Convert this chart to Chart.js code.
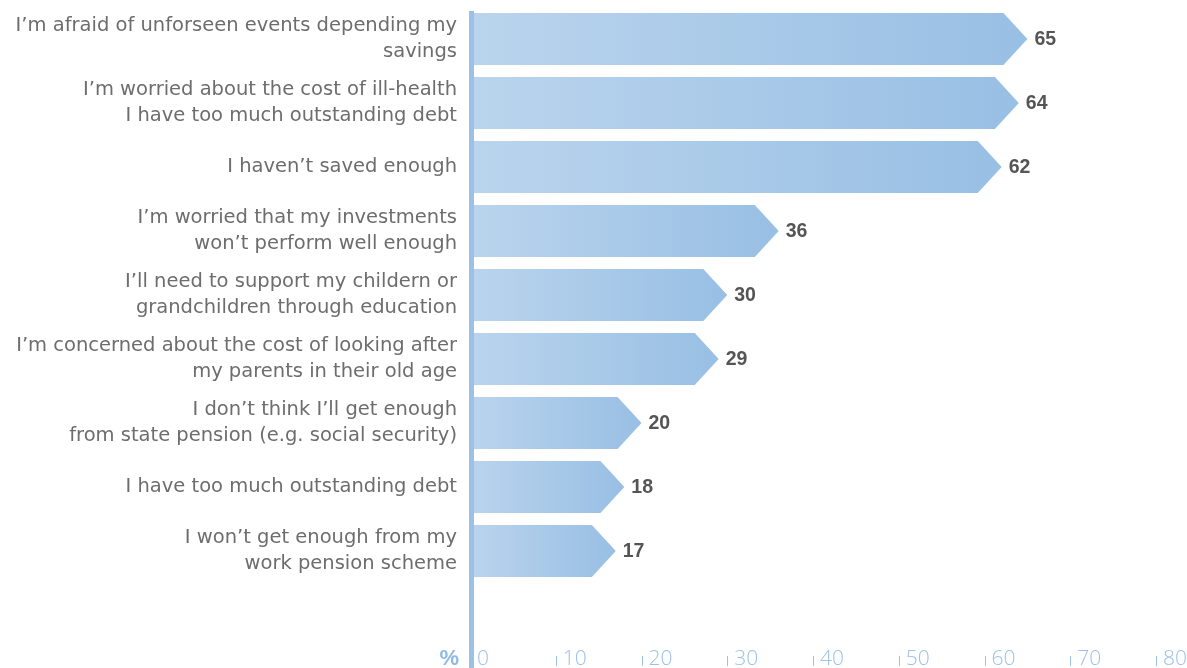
<!DOCTYPE html>
<html>
<head>
<meta charset="utf-8">
<script src="https://cdn.jsdelivr.net/npm/chart.js@4"></script>
<style>
  html, body { margin: 0; padding: 0; background: #ffffff; }
  #wrap { width: 1187px; height: 668px; }
</style>
</head>
<body>
<div id="wrap"><canvas id="chart" width="1187" height="668"></canvas></div>
<script>
// Survey answers (multi-line labels are arrays of lines)
const categories = [
  ["I’m afraid of unforseen events depending my", "savings"],
  ["I’m worried about the cost of ill-health", "I have too much outstanding debt"],
  "I haven’t saved enough",
  ["I’m worried that my investments", "won’t perform well enough"],
  ["I’ll need to support my childern or", "grandchildren through education"],
  ["I’m concerned about the cost of looking after", "my parents in their old age"],
  ["I don’t think I’ll get enough", "from state pension (e.g. social security)"],
  "I have too much outstanding debt",
  ["I won’t get enough from my", "work pension scheme"]
];
// Share of respondents, %
const shares = [65, 64, 62, 36, 30, 29, 20, 18, 17];
// Percentage axis
const axisMin = 0;
const axisMax = 80;
const axisStep = 10;
const axisUnit = "%";

const LABEL_FONT = "'DejaVu Sans', Verdana, sans-serif";
const TICK_FONT = "'Open Sans', 'Liberation Sans', Arial, sans-serif";
const BOLD_FONT = "'Liberation Sans', Arial, sans-serif";
const BAR_LIGHT = "#bad4ed";
const BAR_DARK = "#98bfe4";
const AXIS_BLUE = "#9cc1e6";
const TICK_BLUE = "#9cc2e8";

// Draws each bar as an arrow pointing at its value, the value next to it,
// the thick value axis line, the little tick marks and the unit sign.
const arrowBars = {
  id: "arrowBars",
  afterDatasetsDraw(chart) {
    const ctx = chart.ctx;
    const meta = chart.getDatasetMeta(0);
    const data = chart.data.datasets[0].data;
    ctx.save();
    meta.data.forEach((el, i) => {
      const { x, y, base, height } = el.getProps(["x", "y", "base", "height"], true);
      const half = height / 2;
      const tipLen = half * 0.92;
      const g = ctx.createLinearGradient(base, 0, x, 0);
      g.addColorStop(0, BAR_LIGHT);
      g.addColorStop(1, BAR_DARK);
      ctx.fillStyle = g;
      ctx.beginPath();
      ctx.moveTo(base, y - half);
      ctx.lineTo(x - tipLen, y - half);
      ctx.lineTo(x, y);
      ctx.lineTo(x - tipLen, y + half);
      ctx.lineTo(base, y + half);
      ctx.closePath();
      ctx.fill();

      ctx.fillStyle = "#555555";
      ctx.font = "bold 19.5px " + BOLD_FONT;
      ctx.textAlign = "left";
      ctx.textBaseline = "middle";
      ctx.fillText(String(data[i]), x + 7, y + 1);
    });

    const xs = chart.scales.x;
    const left = chart.chartArea.left;
    // value axis line running down to the tick row
    ctx.fillStyle = AXIS_BLUE;
    ctx.fillRect(left - 1, chart.chartArea.top + 4, 5, chart.height - chart.chartArea.top - 4);

    // short tick marks beside each tick label
    ctx.strokeStyle = TICK_BLUE;
    ctx.lineWidth = 1;
    xs.ticks.forEach(t => {
      if (t.value === axisMin) return;
      const px = Math.round(xs.getPixelForValue(t.value)) + 0.5;
      ctx.beginPath();
      ctx.moveTo(px, 656);
      ctx.lineTo(px, 666);
      ctx.stroke();
    });

    // unit sign left of the axis
    ctx.fillStyle = "#8fbae4";
    ctx.font = "bold 22px " + BOLD_FONT;
    ctx.textAlign = "right";
    ctx.textBaseline = "alphabetic";
    ctx.fillText(axisUnit, left - 11, 665);
    ctx.restore();
  }
};

new Chart(document.getElementById("chart"), {
  type: "bar",
  data: {
    labels: categories,
    datasets: [{
      data: shares,
      backgroundColor: "rgba(0,0,0,0)",
      borderWidth: 0,
      barPercentage: 0.8125,
      categoryPercentage: 1
    }]
  },
  options: {
    indexAxis: "y",
    responsive: false,
    devicePixelRatio: 1,
    animation: false,
    layout: { padding: { top: 7, right: 31, left: 0, bottom: 0 } },
    plugins: { legend: { display: false }, tooltip: { enabled: false } },
    scales: {
      x: {
        type: "linear",
        position: "bottom",
        min: axisMin,
        max: axisMax,
        grid: { display: false, drawTicks: false },
        border: { display: false },
        ticks: {
          stepSize: axisStep,
          align: "start",
          labelOffset: 7,
          padding: 63,
          color: TICK_BLUE,
          font: { family: TICK_FONT, size: 21, weight: "300" }
        },
        afterFit(s) { s.height = 85; s.paddingLeft = 0; s.paddingRight = 0; }
      },
      y: {
        type: "category",
        position: "left",
        grid: { display: false, drawTicks: false },
        border: { display: false },
        ticks: {
          autoSkip: false,
          padding: 13,
          color: "#6d6d6d",
          font: { family: LABEL_FONT, size: 19.5, weight: "normal", lineHeight: 1.333 }
        },
        afterFit(s) { s.width = 470; s.paddingTop = 0; s.paddingBottom = 0; }
      }
    }
  },
  plugins: [arrowBars]
});
</script>
</body>
</html>
